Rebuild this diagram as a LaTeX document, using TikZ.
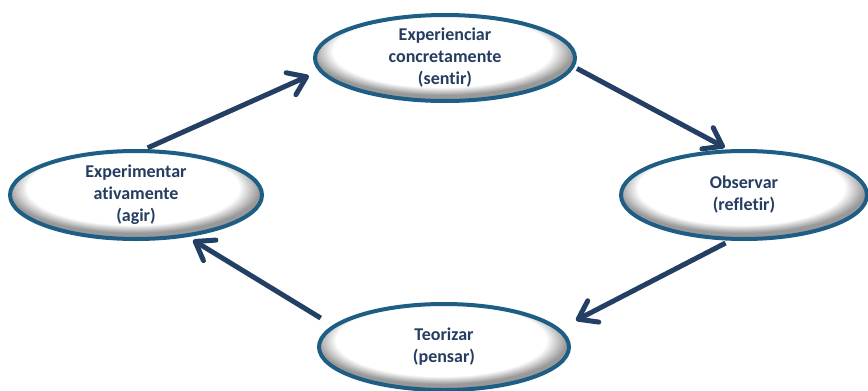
\documentclass[tikz,border=0pt]{standalone}
\usepackage{fontspec}
\setmainfont{Carlito}[Ligatures={NoCommon}]
\usetikzlibrary{shapes.geometric,arrows.meta}

\definecolor{rim}{HTML}{1F5E84}
\definecolor{ink}{HTML}{243D60}
\definecolor{flowc}{HTML}{243F64}

\pgfdeclareradialshading{inshade}{\pgfpoint{-1bp}{7bp}}{%
  color(0bp)=(white); color(21bp)=(white);
  color(25bp)=(black!40); color(50bp)=(black!40)}

\tikzset{
  stage/.style={ellipse, draw=rim, line width=4pt, shading=inshade,
    text=ink, font=\bfseries\fontsize{18}{22}\selectfont,
    align=center, inner sep=0pt},
  flow/.style={draw=flowc, line width=5pt,
    -{Straight Barb[length=17pt,width=24pt,round]}}
}

\begin{document}
\begin{tikzpicture}[x=1pt,y=-1pt]

  \useasboundingbox (0,0) rectangle (868,391);

  \node[stage, minimum width=260pt, minimum height=86pt] (sentir)
    at (445,58) {Experienciar\\concretamente\\(sentir)};
  \node[stage, minimum width=246pt, minimum height=88pt] (refletir)
    at (744,195) {Observar\\(refletir)};
  \node[stage, minimum width=250pt, minimum height=86pt] (pensar)
    at (444,347) {Teorizar\\(pensar)};
  \node[stage, minimum width=252pt, minimum height=88pt] (agir)
    at (136,195) {Experimentar\\ativamente\\(agir)};

  \draw[flow, shorten <=3pt, shorten >=11pt] (agir.79) -- (sentir.186);
  \draw[flow, shorten <=3pt, shorten >=4pt] (sentir.-4) -- (refletir.109);
  \draw[flow, shorten <=5pt, shorten >=18pt] (refletir.253) -- (pensar.9);
  \draw[flow, shorten <=14pt, shorten >=6pt] (pensar.169) -- (agir.-39);

\end{tikzpicture}
\end{document}
